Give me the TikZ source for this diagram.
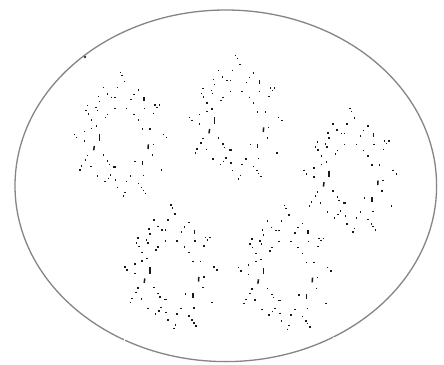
\documentclass[tikz,border=0pt]{standalone}
\tikzset{
  dotmark/.style={line width=1.5pt, black!90},
  ring/.style={draw=black!48, line width=1.3pt},
  gapmark/.style={draw=white, line width=1.2pt},
  cluster/.pic={
    \foreach \pa/\pb in {166/22,171/31,179/50,
      115/68,157/68,220/75,207/88,127/87,
      100/95,140/97,150/97,103/110,198/104,
      68/122,270/120,276/127,283/120,
      150/130,185/130,238/130,93/128,
      63/137,97/137,70/147,128/148,207/148,266/145,
      122/158,80/165,220/165,95/183,
      80/190,232/192,255/192,58/200,
      28/208,35/218,295/208,305/218,58/228,265/238,
      262/270,68/272,115/270,62/285,128/288,133/298,
      210/290,50/303,45/315,78/305,290/315,
      98/333,137/330,130/340,197/333,235/331,
      152/345,120/350,185/350,
      220/355,230/368,235/376,242/386,
      157/368,180/382,175/393}
      {\draw[dotmark] ({\pa/3},{\pb/3-0.8}) -- ({\pa/3},{\pb/3+0.8});}
    \foreach \pa/\pb/\pc/\pd in {237/96/237/108,103/208/103/228,
      88/243/86/256,250/238/249/252,232/287/232/301,145/306/154/306}
      {\draw[dotmark] ({\pa/3},{\pb/3}) -- ({\pc/3},{\pd/3});}
  }
}
\begin{document}
\begin{tikzpicture}[x=1pt,y=-1pt]
  \useasboundingbox (0,0) rectangle (444,364);
  \fill[white] (0,0) rectangle (444,364);
  \draw[ring] (225.8,185.8) ellipse [x radius=210.8, y radius=175.8];
  \draw[gapmark] (124.5,337) -- (124.5,343);
  \draw[gapmark] (333.5,337) -- (333.5,343);
  \fill[black!80] (85,57) circle [radius=1.4];
  \pic at (65,65) {cluster};
  \pic at (180.3,48) {cluster};
  \pic at (294.7,101.2) {cluster};
  \pic at (115.5,197.5) {cluster};
  \pic at (229.2,198.3) {cluster};
\end{tikzpicture}
\end{document}
